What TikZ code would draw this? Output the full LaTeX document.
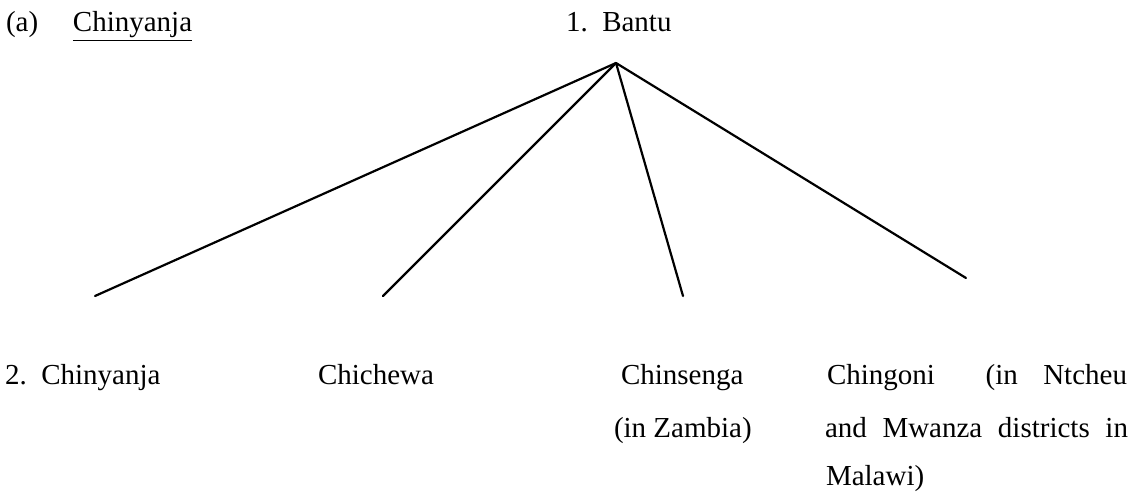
\documentclass[tikz,border=0pt]{standalone}
\usepackage{fontspec}
\setmainfont{Liberation Serif}
\usepackage{tikz}
\usetikzlibrary{positioning}

\begin{document}
\begin{tikzpicture}[
  x=0.5pt, y=-0.5pt,
  every node/.style={font=\fontsize{14.5}{17}\selectfont, inner sep=0pt, outer sep=0pt},
  lbl/.style={anchor=base west},
  branch/.style={line width=1.1pt, line cap=round}
]
\useasboundingbox (0,0) rectangle (1131,493);

\node[lbl] (tag) at (6,31) {(a)\hspace{1.2em}\underline{Chinyanja}};
\node[lbl] (bantu) at (566,31) {1.\ \ Bantu};

\coordinate (top) at (616,63);
\coordinate (e1) at (95,296);
\coordinate (e2) at (383,296);
\coordinate (e3) at (683,296);
\coordinate (e4) at (966,278);

\draw[branch] (top) -- (e1);
\draw[branch] (top) -- (e2);
\draw[branch] (top) -- (e3);
\draw[branch] (top) -- (e4);

\node[lbl] (chinyanja) at (5,384) {2.\ \ Chinyanja};
\node[lbl] (chichewa) at (318,384) {Chichewa};
\node[lbl] (chinsenga) at (621,384) {Chinsenga};
\node[lbl] (zambia) at (614,437) {(in Zambia)};
\node[lbl] (chingoni) at (827,384) {\makebox[150pt][s]{Chingoni\ \ (in\ Ntcheu}};
\node[lbl] (mwanza) at (825,437) {\makebox[151.5pt][s]{and\ Mwanza\ districts in}};
\node[lbl] (malawi) at (826,485) {Malawi)};
\end{tikzpicture}
\end{document}
